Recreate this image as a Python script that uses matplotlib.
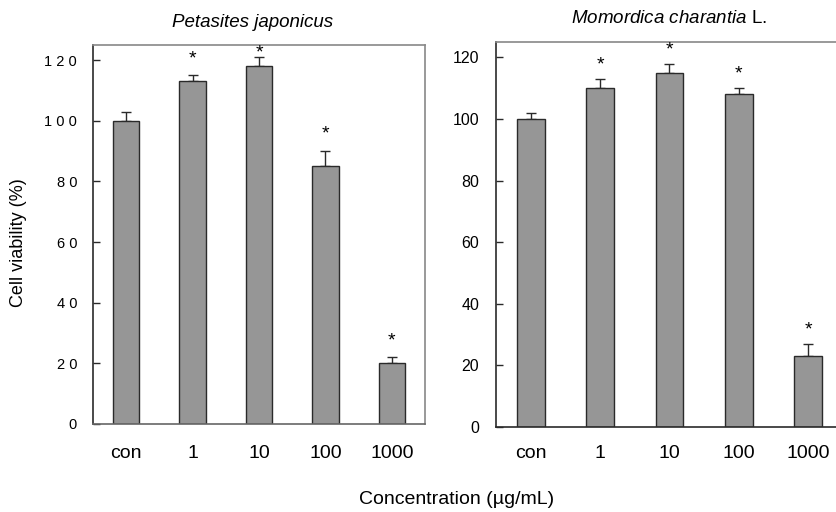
import matplotlib
matplotlib.use('Agg')
import matplotlib.pyplot as plt
import numpy as np

plt.rcParams['font.family'] = ['Liberation Sans', 'DejaVu Sans']
plt.rcParams['mathtext.fontset'] = 'custom'
plt.rcParams['mathtext.it'] = 'Liberation Sans:italic'
plt.rcParams['mathtext.rm'] = 'Liberation Sans'

conc = ['con', '1', '10', '100', '1000']

pj_mean = [100, 113, 118, 85, 20]
pj_err = [3, 2, 3, 5, 2]
pj_sig = [False, True, True, True, True]

mc_mean = [100, 110, 115, 108, 23]
mc_err = [2, 3, 3, 2, 4]
mc_sig = [False, True, True, True, True]

yticks = [0, 20, 40, 60, 80, 100, 120]

fig = plt.figure(figsize=(8.37, 5.12), dpi=100)
ax1 = fig.add_axes([0.1111, 0.1719, 0.3967, 0.7402])
ax2 = fig.add_axes([0.5926, 0.166, 0.4145, 0.752])

def draw(ax, mean, err, sig, star_off, spaced, ypad, xpad, bottom_col):
    x = np.arange(len(conc))
    ax.bar(x, mean, width=0.4, color='#969696', edgecolor='#2a2a2a', linewidth=1.0, zorder=2)
    ax.errorbar(x, mean, yerr=[np.zeros(len(err)), err], fmt='none', ecolor='#2a2a2a',
                elinewidth=1.0, capsize=3.5, capthick=1.0, zorder=1)
    for xi, m, e, s in zip(x, mean, err, sig):
        if s:
            ax.text(xi, min(m + e + star_off, 122.5), '*', ha='center', va='center', fontsize=14)
    ax.set_xlim(-0.5, 4.5)
    ax.set_ylim(0, 125)
    ax.set_xticks(x)
    ax.set_xticklabels(conc, fontsize=14)
    ax.set_yticks(yticks)
    if spaced:
        ax.set_yticklabels([' '.join(str(t)) for t in yticks], fontsize=10.5)
    else:
        ax.set_yticklabels([str(t) for t in yticks], fontsize=11.5)
    ax.tick_params(axis='x', length=0, pad=xpad)
    ax.tick_params(axis='y', direction='in', length=5, width=1, pad=ypad, color='#2a2a2a')
    ax.spines['left'].set_color('#2a2a2a')
    ax.spines['bottom'].set_color(bottom_col)
    ax.spines['top'].set_color('#888888')
    ax.spines['right'].set_color('#888888')
    for sp in ax.spines.values():
        sp.set_linewidth(1.2)

draw(ax1, pj_mean, pj_err, pj_sig, 5.5, True, 11.5, 15, '#666666')
draw(ax2, mc_mean, mc_err, mc_sig, 4.5, False, 12, 13, '#2a2a2a')

ax1.set_title('Petasites japonicus', fontsize=13.5, style='italic', pad=13, x=0.48)
ax2.set_title(r'$\it{Momordica\ charantia}$ L.', fontsize=13.5, pad=14)
ax1.set_ylabel('Cell viability (%)', fontsize=13)
ax1.yaxis.set_label_coords(-0.199, 0.478)
fig.text(0.545, 0.024, 'Concentration (µg/mL)', ha='center', va='center', fontsize=14)

fig.savefig('out.png', dpi=100)
